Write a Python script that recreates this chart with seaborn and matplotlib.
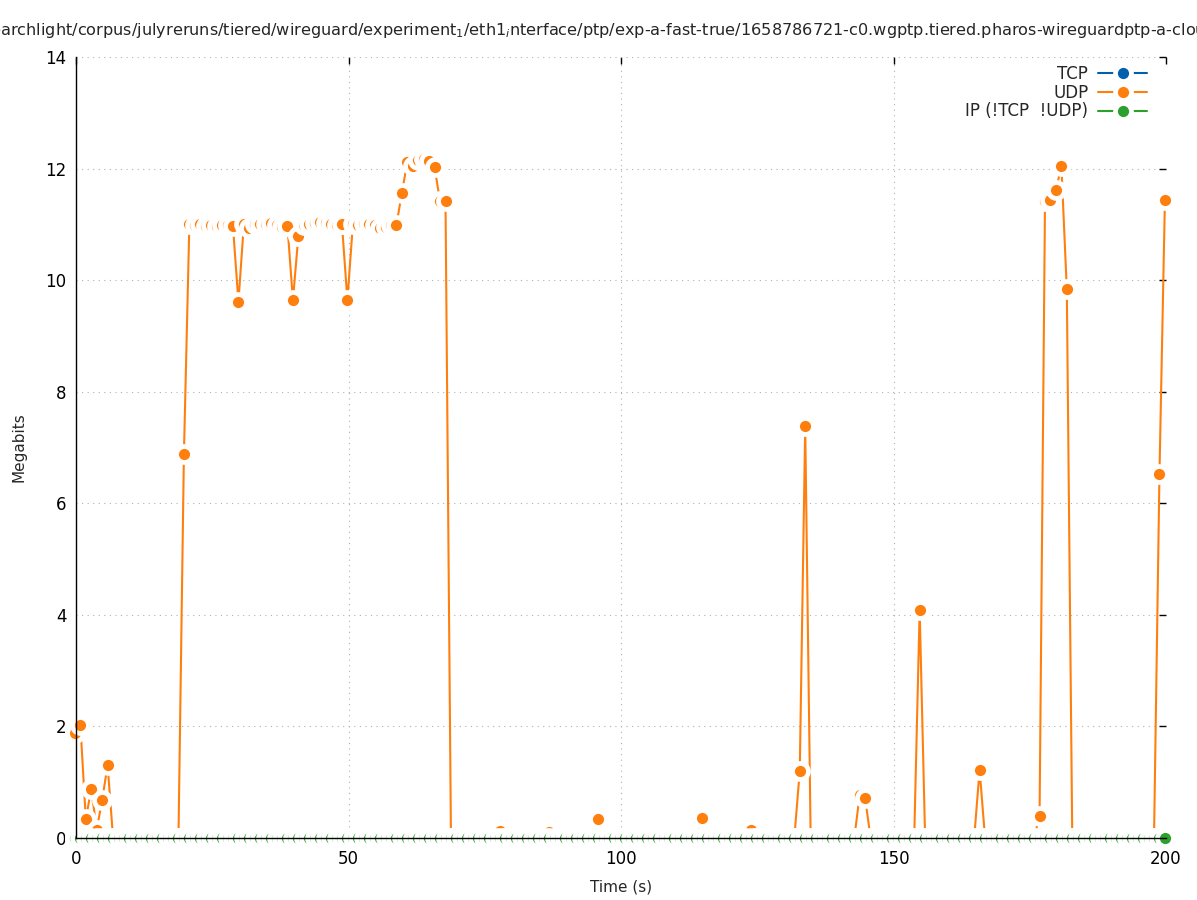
import matplotlib
matplotlib.use("Agg")
import matplotlib.pyplot as plt
import numpy as np
import pandas as pd
import seaborn as sns

title = ("searchlight/corpus/julyreruns/tiered/wireguard/experiment$_1$/eth1$_i$nterface"
         "/ptp/exp-a-fast-true/1658786721-c0.wgptp.tiered.pharos-wireguardptp-a-cloud")

protocols = ["TCP", "UDP", "IP (!TCP  !UDP)"]
colors = ["#0060ad", "#ff7f0e", "#2ca02c"]

# one sample per second, first one just before t=0
n_samples = 201
t0 = -0.2

# UDP samples that are not zero (sample index -> Megabits)
udp_idx = [0, 1, 2, 3, 4, 5, 6,
           20, 21, 22, 23, 24, 25, 26, 27, 28, 29,
           30, 31, 32, 33, 34, 35, 36, 37, 38, 39,
           40, 41, 42, 43, 44, 45, 46, 47, 48, 49,
           50, 51, 52, 53, 54, 55, 56, 57, 58, 59,
           60, 61, 62, 63, 64, 65, 66, 67, 68,
           78, 87, 96, 105, 115, 124,
           133, 134, 144, 145, 155, 166,
           177, 178, 179, 180, 181, 182, 199, 200]
udp_mbit = [1.88, 2.03, 0.34, 0.88, 0.15, 0.68, 1.31,
            6.88, 11.0, 10.98, 11.0, 10.97, 10.98, 10.97, 10.99, 10.98, 10.97,
            9.61, 11.0, 10.93, 11.01, 11.0, 11.01, 11.02, 10.99, 10.96, 10.97,
            9.64, 10.79, 10.98, 11.0, 11.02, 11.04, 11.03, 11.0, 10.99, 11.0,
            9.64, 11.0, 10.99, 11.0, 11.01, 10.98, 10.93, 10.96, 10.98, 10.99,
            11.57, 12.12, 12.05, 12.15, 12.17, 12.14, 12.02, 11.41, 11.41,
            0.12, 0.11, 0.34, 0.06, 0.36, 0.14,
            1.2, 7.38, 0.77, 0.71, 4.09, 1.22,
            0.39, 11.41, 11.44, 11.61, 12.05, 9.84, 6.52, 11.43]

# TCP and the rest of IP stay at zero for the whole run
tcp_mbit = np.zeros(n_samples)
ip_mbit = np.zeros(n_samples)

times = np.arange(n_samples) + t0
udp_full = np.zeros(n_samples)
udp_full[udp_idx] = udp_mbit

df = pd.concat([
    pd.DataFrame({"Time (s)": times, "Megabits": tcp_mbit, "proto": protocols[0]}),
    pd.DataFrame({"Time (s)": times, "Megabits": udp_full, "proto": protocols[1]}),
    pd.DataFrame({"Time (s)": times, "Megabits": ip_mbit, "proto": protocols[2]}),
], ignore_index=True)

sns.set_style("white")
plt.rcParams["font.family"] = ["DejaVu Sans"]

fig = plt.figure(figsize=(11.97, 9.0), dpi=100)
ax = fig.add_axes([76 / 1197, 1 - 838 / 900, 1090 / 1197, 781 / 900])

sns.lineplot(data=df, x="Time (s)", y="Megabits", hue="proto",
             hue_order=protocols, palette=colors, estimator=None,
             marker="o", markersize=11.5, markeredgecolor="white",
             markeredgewidth=3.4, linewidth=1.5, legend=False, ax=ax)
# gnuplot style: points are not clipped at the border
for line in ax.lines:
    line.set_clip_on(False)

ax.set_xlim(0, 200)
ax.set_ylim(0, 14)
ax.set_xticks([0, 50, 100, 150, 200])
ax.set_yticks(range(0, 15, 2))
ax.grid(True, linestyle=(0, (1, 4)), color="#b0b0b0", linewidth=0.8)
ax.set_axisbelow(True)

ax.spines[["top", "right"]].set_visible(False)
for side in ["left", "bottom"]:
    ax.spines[side].set_color("black")
    ax.spines[side].set_linewidth(1.0)
    ax.spines[side].set_zorder(5)
ax.tick_params(direction="in", length=5, width=1, top=True, right=True,
               labelsize=12, colors="black")
ax.tick_params(axis="x", pad=9)
ax.tick_params(axis="y", pad=7)
ax.set_xlabel("Time (s)", fontsize=11, labelpad=8)
ax.set_ylabel("Megabits", fontsize=11, labelpad=13.5)

ax.legend(ax.lines[:3], protocols, loc="upper right", frameon=False,
          markerfirst=False, fontsize=12, handlelength=2.9, handletextpad=0.6,
          labelspacing=0.05, borderaxespad=0.3, bbox_to_anchor=(0.993, 1.005))

fig.text(-18 / 1197, 1 - 30 / 900, title, fontsize=11.62, ha="left", va="center")

fig.savefig("out.png", dpi=100)
